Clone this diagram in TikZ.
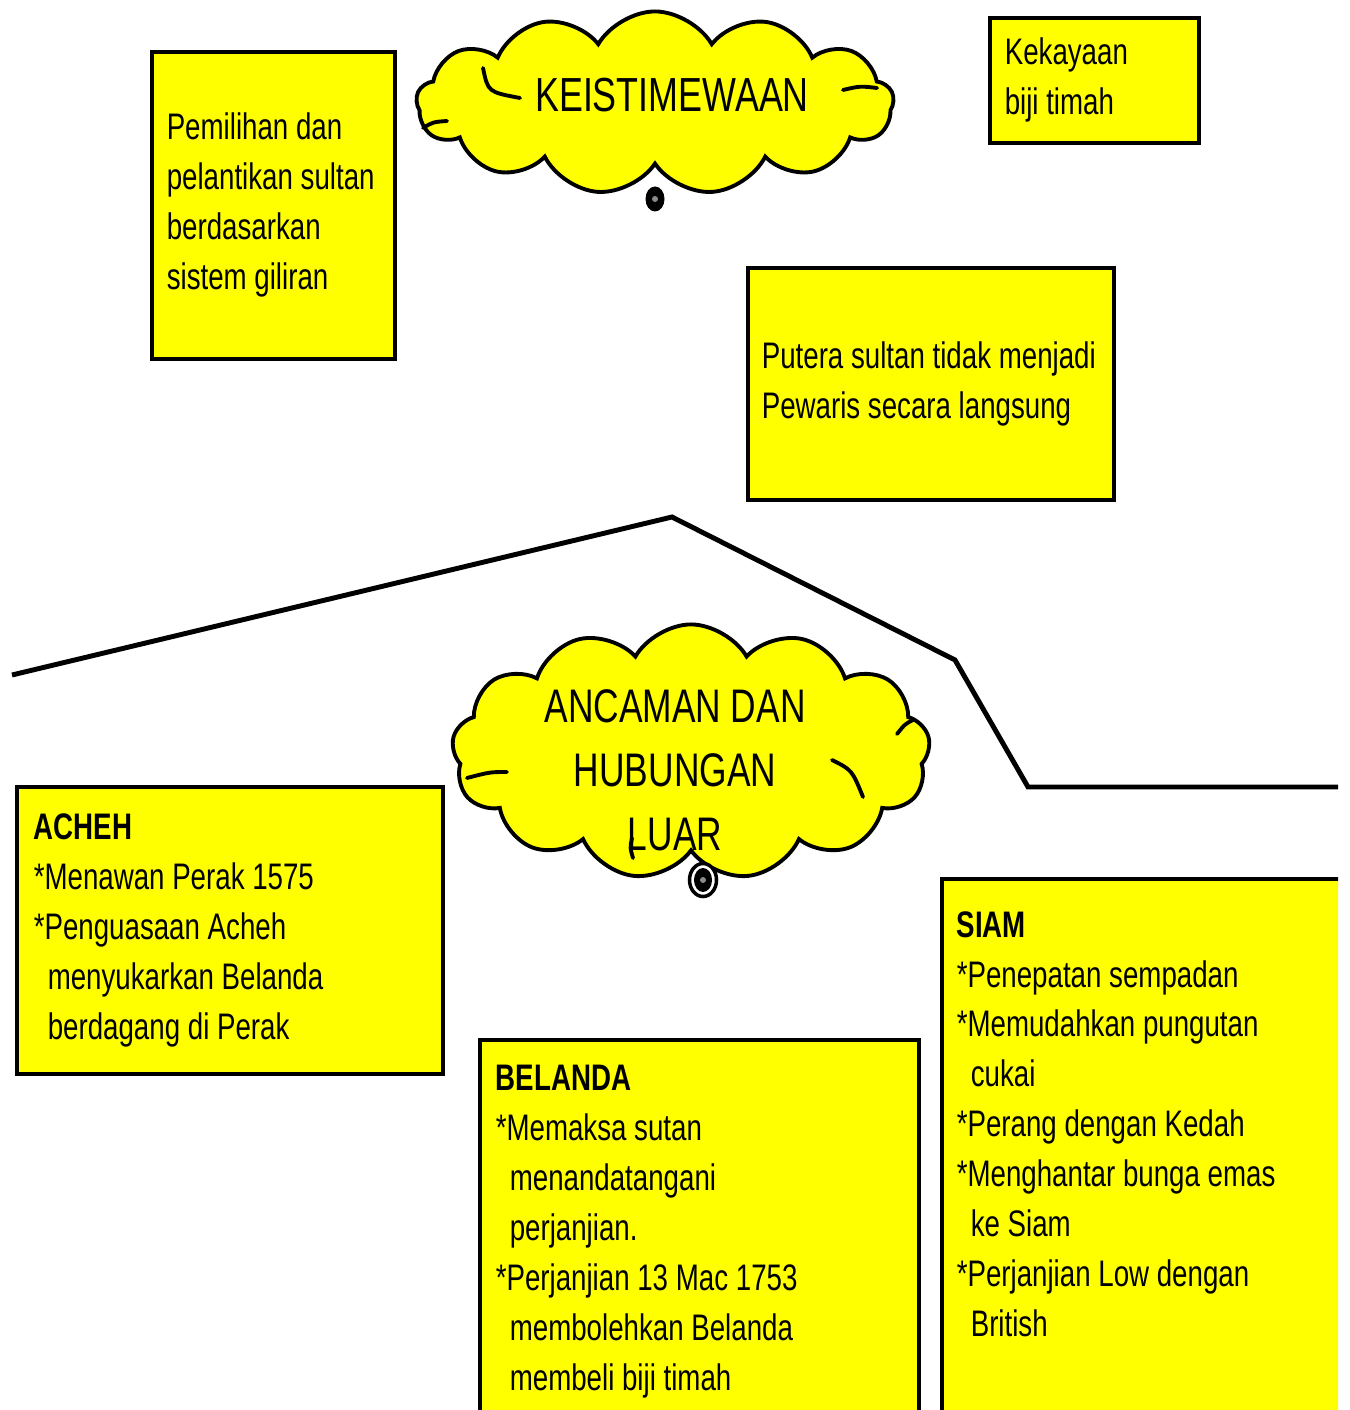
\documentclass[tikz,border=0pt]{standalone}
\usepackage{fontspec}
\setmainfont{Liberation Sans}[FakeStretch=0.75]
\usepackage{xcolor}
\usepackage{tikz}
\usetikzlibrary{shapes.symbols,shapes.geometric}
\definecolor{ink}{HTML}{000000}
\definecolor{boxfill}{HTML}{FFFF00}
\definecolor{knobgray}{HTML}{8A8A8A}
\hyphenpenalty=10000
\exhyphenpenalty=10000
\newcommand{\contind}{\hspace*{0.14cm}}
\tikzset{
  box/.style={draw=ink, fill=boxfill, line width=1pt, anchor=north west, align=flush left,
    inner xsep=0.15cm, text=ink, font=\fontsize{10.5}{14.2}\selectfont},
  cloudy/.style={cloud, cloud puffs=13, cloud puff arc=120, cloud ignores aspect,
    draw=ink, fill=boxfill, line width=1.1pt, inner sep=0pt},
  title/.style={text=ink, align=center, inner sep=0pt},
  puffline/.style={draw=ink, line width=1.1pt, line cap=round},
  knob/.style={ellipse, fill=ink, inner sep=0pt},
  knobeye/.style={circle, fill=knobgray, inner sep=0pt, minimum size=0.06cm},
  frame/.style={draw=ink, line width=1.4pt, line join=miter},
}

\begin{document}
\begin{tikzpicture}[x=0.01cm, y=-0.01cm]
  \useasboundingbox (0,0) rectangle (1349,1410);
  \begin{scope}
  \clip (0,0) rectangle (1338,1410);

  % outline behind the lower cloud
  \coordinate (f1) at (12,675);
  \coordinate (f2) at (672,517);
  \coordinate (f3) at (955,660);
  \coordinate (f4) at (1028,787);
  \coordinate (f5) at (1345,787);
  \draw[frame] (f1) -- (f2) -- (f3) -- (f4) -- (f5);

  % upper part
  \node[box, text width=2.13cm, minimum height=3.07cm] (pemilihan) at (150,50)
    {Pemilihan dan\\pelantikan sultan\\berdasarkan\\sistem giliran};
  \node[box, text width=1.79cm, minimum height=1.25cm] (kekayaan) at (988,16)
    {Kekayaan\\biji timah};
  \node[box, inner xsep=0.14cm, text width=3.38cm, minimum height=2.32cm] (putera) at (746,266)
    {Putera sultan tidak menjadi\\Pewaris secara langsung};

  \node[cloudy, minimum width=4.77cm, minimum height=1.83cm] (kcloud) at (655,103) {};
  \draw[puffline] (483,68) .. controls (488,92) .. (520,98);
  \draw[puffline] (423,128) .. controls (433,122) .. (447,121);
  \draw[puffline] (843,90) .. controls (860,86) .. (877,88);
  \node[title, font=\fontsize{13.6}{18}\selectfont] (ktext) at (672,95) {KEISTIMEWAAN};
  \node[knob, minimum width=0.19cm, minimum height=0.25cm] (kknob) at (655,199) {};
  \node[knobeye] (keye) at (kknob.center) {};

  % lower part
  \node[cloudy, minimum width=4.78cm, minimum height=2.55cm] (acloud) at (691,752) {};
  \draw[puffline] (507,772) .. controls (490,772) .. (467,778);
  \draw[puffline] (913,720) .. controls (905,724) .. (897,734);
  \draw[puffline] (832,760) .. controls (852,770) .. (863,797);
  \draw[puffline] (632,838) .. controls (630,848) .. (633,858);
  \node[title, font=\fontsize{13.4}{18.2}\selectfont] (atext) at (675,770)
    {ANCAMAN DAN\\HUBUNGAN\\LUAR};
  \node[ellipse, draw=ink, line width=1pt, fill=white, inner sep=0pt,
    minimum width=0.27cm, minimum height=0.33cm] (aring) at (703,880) {};
  \node[knob, minimum width=0.18cm, minimum height=0.24cm] (aknob) at (aring.center) {};
  \node[knobeye] (aeye) at (aknob.center) {};

  \node[box, inner xsep=0.17cm, text width=3.92cm, minimum height=2.87cm] (acheh) at (15,785)
    {\textbf{ACHEH}\\{*}Menawan Perak 1575\\{*}Penguasaan Acheh\\
     \contind menyukarkan Belanda\\\contind berdagang di Perak};
  \node[box, inner xsep=0.16cm, text width=4.07cm, minimum height=3.84cm] (belanda) at (478,1038)
    {\textbf{BELANDA}\\{*}Memaksa sutan\\\contind menandatangani\\\contind perjanjian.\\
     {*}Perjanjian 13 Mac 1753\\\contind membolehkan Belanda\\\contind membeli biji timah};
  \node[box, inner xsep=0.15cm, text width=3.9cm, minimum height=6.1cm] (siam) at (940,877)
    {\textbf{SIAM}\\{*}Penepatan sempadan\\{*}Memudahkan pungutan\\\contind cukai\\
     {*}Perang dengan Kedah\\{*}Menghantar bunga emas\\\contind ke Siam\\
     {*}Perjanjian Low dengan\\\contind British\\[0.7cm]\mbox{}};
  \end{scope}
\end{tikzpicture}
\end{document}
